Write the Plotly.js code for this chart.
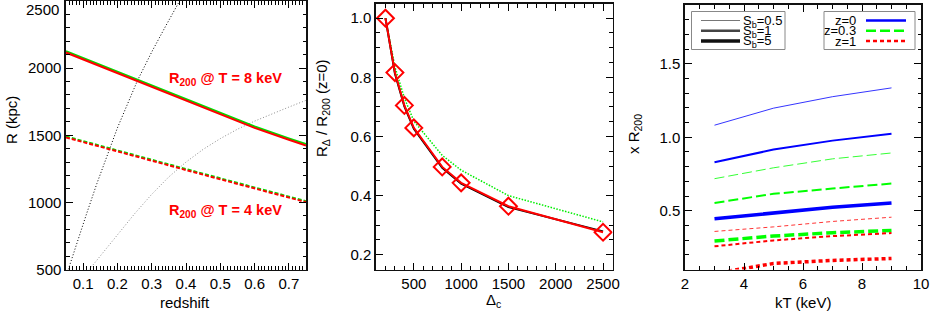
<!DOCTYPE html>
<html><head><meta charset="utf-8">
<script src="https://cdn.plot.ly/plotly-3.0.1.min.js"></script>
<style>body{margin:0;padding:0;background:#fff}#c{width:930px;height:311px}</style>
</head><body><div id="c"></div>
<script>
// ---------- Panel 1: R vs redshift ----------
const zGrid = [0.05, 0.1, 0.2, 0.3, 0.4, 0.5, 0.6, 0.7, 0.75];
const r8Red   = [2116, 2065, 1964, 1861, 1755, 1652, 1555, 1467, 1424];
const r8Green = [2126, 2075, 1974, 1871, 1765, 1662, 1565, 1477, 1434];
const r4Red   = [1484, 1450, 1381, 1311, 1241, 1172, 1104, 1036, 1002];
const r4Green = [1491, 1457, 1388, 1318, 1248, 1179, 1111, 1043, 1009];
const zBlack  = [0.0567, 0.08, 0.11, 0.14, 0.173, 0.2, 0.258, 0.3, 0.34, 0.38, 0.39];
const rBlack  = [500, 685, 915, 1140, 1375, 1555, 1905, 2120, 2310, 2495, 2540];
const zGray   = [0.118, 0.15, 0.2, 0.25, 0.3, 0.35, 0.4, 0.45, 0.5, 0.55, 0.6, 0.65, 0.7, 0.75];
const rGray   = [500, 600, 760, 915, 1060, 1190, 1300, 1395, 1475, 1545, 1605, 1660, 1710, 1760];
const rTicks  = [500, 1000, 1500, 2000, 2500];

// ---------- Panel 2: R_Delta / R200 vs Delta_c ----------
const deltaC   = [200, 300, 400, 500, 800, 1000, 1500, 2500];
const ratioRed = [1.0, 0.816, 0.705, 0.629, 0.497, 0.443, 0.364, 0.276];
const ratioBlk = [1.0, 0.813, 0.702, 0.626, 0.494, 0.440, 0.361, 0.279];
const ratioGrn = [1.0, 0.835, 0.730, 0.652, 0.536, 0.486, 0.400, 0.311];

// ---------- Panel 3: x R200 vs kT ----------
const kT = [3, 5, 7, 9];
const z0_sb05 = [1.082, 1.198, 1.276, 1.336];
const z0_sb1  = [0.830, 0.916, 0.977, 1.024];
const z0_sb5  = [0.445, 0.487, 0.524, 0.553];
const z03_sb05 = [0.718, 0.792, 0.853, 0.893];
const z03_sb1  = [0.553, 0.615, 0.651, 0.685];
const z03_sb5  = [0.294, 0.328, 0.350, 0.366];
const z1_sb05 = [0.359, 0.390, 0.427, 0.456];
const z1_sb1  = [0.258, 0.298, 0.327, 0.348];
const z1_sb5  = [0.073, 0.141, 0.162, 0.175];

const sbLabels = ['S<sub>b</sub>=0.5', 'S<sub>b</sub>=1', 'S<sub>b</sub>=5'];
const zLabels = ['z=0', 'z=0.3', 'z=1'];

const FONT = 'Liberation Sans, Arial, sans-serif';
const W = 930, H = 311;
const px = v => v / W, py = v => 1 - v / H;

const traces = [];
function line(x, y, xa, ya, color, width, dash) {
  traces.push({x, y, xaxis: xa, yaxis: ya, type: 'scatter', mode: 'lines',
    line: {color, width, dash: dash || 'solid'}, hoverinfo: 'skip', showlegend: false});
}
// panel 1
line(zBlack, rBlack, 'x', 'y', '#000', 1, '1px,2px');
line(zGray, rGray, 'x', 'y', '#8c8c8c', 1, '1px,2px');
line(zGrid, r8Green, 'x', 'y', '#00dd00', 2);
line(zGrid, r8Red, 'x', 'y', '#ff0000', 2);
line(zGrid, r4Green, 'x', 'y', '#00dd00', 2, '4px,2px');
line(zGrid, r4Red, 'x', 'y', '#ff0000', 2, '4px,2px');
// panel 2
line(deltaC, ratioGrn, 'x2', 'y2', '#00ee00', 1.5, '1.5px,1.5px');
line(deltaC, ratioBlk, 'x2', 'y2', '#000', 2);
traces.push({x: deltaC, y: ratioRed, xaxis: 'x2', yaxis: 'y2', type: 'scatter', mode: 'lines+markers',
  line: {color: '#ff0000', width: 2}, marker: {symbol: 'diamond-open', size: 13, color: '#ff0000', line: {width: 2, color: '#ff0000'}},
  hoverinfo: 'skip', showlegend: false});
// panel 3
const blue = '#0000ff', green = '#00ff00', red = '#ff0000';
line(kT, z0_sb05, 'x3', 'y3', blue, 0.8);
line(kT, z0_sb1, 'x3', 'y3', blue, 2);
line(kT, z0_sb5, 'x3', 'y3', blue, 3.5);
line(kT, z03_sb05, 'x3', 'y3', green, 0.8, '10px,4px');
line(kT, z03_sb1, 'x3', 'y3', green, 2, '10px,4px');
line(kT, z03_sb5, 'x3', 'y3', green, 3.5, '10px,4px');
line(kT, z1_sb05, 'x3', 'y3', red, 0.8, '4px,3px');
line(kT, z1_sb1, 'x3', 'y3', red, 2, '4px,3px');
line(kT, z1_sb5, 'x3', 'y3', red, 3.5, '4px,3px');

function ax(extra) {
  return Object.assign({
    showgrid: false, zeroline: false, showline: true, linecolor: '#111', linewidth: 1.6,
    mirror: 'allticks', ticks: 'inside', ticklen: 7, tickwidth: 1, tickcolor: '#000',
    tickfont: {family: FONT, size: 15, color: '#000'}, fixedrange: true
  }, extra);
}
const layout = {
  width: W, height: H, margin: {l: 0, r: 0, t: 0, b: 0},
  paper_bgcolor: '#fff', plot_bgcolor: '#fff', showlegend: false,
  xaxis: ax({domain: [px(66), px(306)], range: [0.05, 0.75], dtick: 0.1, tick0: 0.1, anchor: 'y',
    minor: {dtick: 0.01, ticklen: 3.5, ticks: 'inside', tickcolor: '#000'}}),
  yaxis: ax({domain: [py(269.5), py(1)], range: [500, 2500], tickmode: 'array', tickvals: rTicks,
    ticktext: rTicks.map(v => v === 2500 ? '' : String(v)), anchor: 'x',
    minor: {dtick: 100, ticklen: 3.5, ticks: 'inside', tickcolor: '#000'}}),
  xaxis2: ax({domain: [px(376), px(612.5)], range: [100, 2600], dtick: 500, tick0: 0, anchor: 'y2',
    minor: {dtick: 100, ticklen: 3.5, ticks: 'inside', tickcolor: '#000'}}),
  yaxis2: ax({domain: [py(269.5), py(4)], range: [0.15, 1.048], dtick: 0.2, tick0: 0, tickformat: '.1f', anchor: 'x2',
    minor: {dtick: 0.05, ticklen: 3.5, ticks: 'inside', tickcolor: '#000'}}),
  xaxis3: ax({domain: [px(685), px(921)], range: [2, 10], dtick: 2, anchor: 'y3', ticklabeloverflow: 'allow',
    minor: {dtick: 0.5, ticklen: 3.5, ticks: 'inside', tickcolor: '#000'}}),
  yaxis3: ax({domain: [py(269.5), py(5)], range: [0.1, 1.9], dtick: 0.5, tick0: 0, tickformat: '.1f', anchor: 'x3',
    minor: {dtick: 0.1, ticklen: 3.5, ticks: 'inside', tickcolor: '#000'}}),
  annotations: [], shapes: []
};
const A = layout.annotations, S = layout.shapes;
function txt(x, y, text, opts) {
  A.push(Object.assign({xref: 'paper', yref: 'paper', x: px(x), y: py(y), text, showarrow: false,
    xanchor: 'center', yanchor: 'middle', font: {family: FONT, size: 15, color: '#000'}}, opts || {}));
}
// top tick label of panel 1 (drawn just below the top edge, as in the original)
txt(61, 9, String(rTicks[4]), {xanchor: 'right'});
// axis titles
txt(185, 302, 'redshift');
txt(12, 120, 'R (kpc)', {textangle: -90});
txt(493, 300, 'Δ<sub>c</sub>');
txt(322, 108, 'R<sub>Δ</sub> / R<sub>200</sub> (z=0)', {textangle: -90});
txt(803, 302, 'kT (keV)');
txt(634, 134, 'x R<sub>200</sub>', {textangle: -90});
// panel 1 labels
const redBold = {family: FONT, size: 14.5, color: '#ff0000', weight: 'bold'};
txt(167, 79, 'R<sub>200</sub> @ T = 8 keV', {xanchor: 'left', font: redBold});
txt(167, 211, 'R<sub>200</sub> @ T = 4 keV', {xanchor: 'left', font: redBold});
// legend boxes
S.push({type: 'rect', xref: 'paper', yref: 'paper', x0: px(691.5), x1: px(785), y0: py(49.5), y1: py(11.5), line: {color: '#888', width: 1}});
S.push({type: 'rect', xref: 'paper', yref: 'paper', x0: px(824), x1: px(915), y0: py(49.5), y1: py(11.5), line: {color: '#888', width: 1}});
const legY = [20.5, 30.8, 41];
const sbW = [1, 2.5, 3.5], sbC = ['#777', '#444', '#111'];
const legFont = {family: FONT, size: 13, color: '#000'};
for (let i = 0; i < 3; i++) {
  S.push({type: 'line', xref: 'paper', yref: 'paper', x0: px(701), x1: px(740), y0: py(legY[i]), y1: py(legY[i]), line: {color: sbC[i], width: sbW[i]}});
  txt(741, legY[i] + 1, sbLabels[i], {xanchor: 'left', font: legFont});
}
const zC = [blue, green, red], zD = ['solid', '10px,4px', '4px,3px'];
for (let i = 0; i < 3; i++) {
  S.push({type: 'line', xref: 'paper', yref: 'paper', x0: px(866), x1: px(906), y0: py(legY[i]), y1: py(legY[i]), line: {color: zC[i], width: 2.5, dash: zD[i]}});
  txt(858, legY[i], zLabels[i], {xanchor: 'right', font: legFont});
}
Plotly.newPlot('c', traces, layout, {displayModeBar: false, staticPlot: true});
</script></body></html>
